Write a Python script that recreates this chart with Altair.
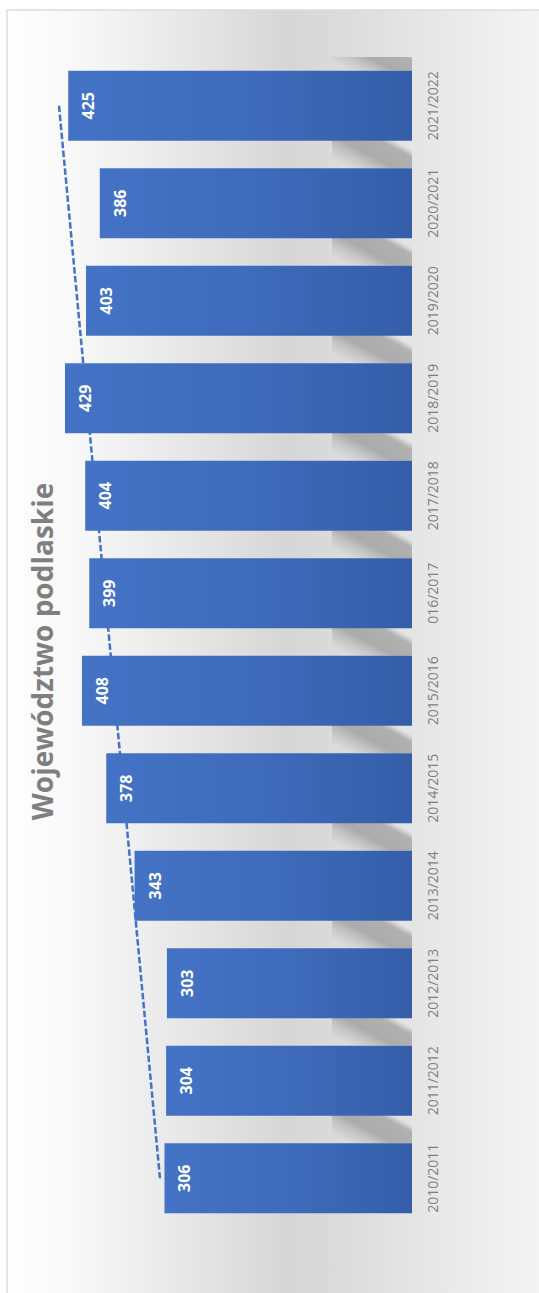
import altair as alt
import pandas as pd

# ---- data ----
categories = ["2010/2011", "2011/2012", "2012/2013", "2013/2014", "2014/2015",
              "2015/2016", "016/2017", "2017/2018", "2018/2019", "2019/2020",
              "2020/2021", "2021/2022"]
values = [306, 304, 303, 343, 378, 408, 399, 404, 429, 403, 386, 425]
title_text = "Województwo podlaskie"

df = pd.DataFrame({"cat": categories, "value": values})
one = pd.DataFrame({"k": [0]})

FONT = "Open Sans"
W, H = 364, 1170
top_order = categories[::-1]

xscale = alt.Scale(domain=[0, 450], reverse=True, nice=False, zero=True)
yband = alt.Scale(paddingInner=0.282, paddingOuter=0.141)

def ycat(axis=None):
    return alt.Y("cat:N", sort=top_order, scale=yband, axis=axis, title=None)

# background panel with gradient
bg = alt.Chart(one).mark_rect(
    color=alt.LinearGradient(
        gradient="linear", x1=0, x2=1, y1=0, y2=0,
        stops=[
            alt.GradientStop(color="#fefefe", offset=0),
            alt.GradientStop(color="#f8f8f8", offset=0.127),
            alt.GradientStop(color="#e9e9e9", offset=0.307),
            alt.GradientStop(color="#d6d6d6", offset=0.518),
            alt.GradientStop(color="#dcdcdc", offset=0.628),
            alt.GradientStop(color="#e5e5e5", offset=0.754),
            alt.GradientStop(color="#f5f5f5", offset=1),
        ]),
    stroke="#dcdcdc", strokeWidth=1.5
).encode(x=alt.value(-41), x2=alt.value(500), y=alt.value(-47), y2=alt.value(1240))

# soft diagonal shadow in the gap above each bar, near the base
shadow = alt.Chart(df).mark_bar(
    size=28, yOffset=-49, clip=True,
    color=alt.LinearGradient(
        gradient="linear", x1=0, y1=1, x2=1, y2=0.35,
        stops=[
            alt.GradientStop(color="rgba(160,160,160,0)", offset=0.15),
            alt.GradientStop(color="rgba(160,160,160,0.35)", offset=0.35),
            alt.GradientStop(color="rgba(158,158,158,0.8)", offset=0.55),
            alt.GradientStop(color="rgba(160,160,160,0.75)", offset=0.88),
            alt.GradientStop(color="rgba(170,170,170,0)", offset=1),
        ]),
).encode(y=ycat(), x=alt.value(284), x2=alt.value(364))

trend = alt.Chart(df).transform_window(
    idx="row_number()"
).transform_regression(
    "idx", "value", method="linear"
).mark_line(
    color="#4472c4", strokeWidth=2.5, strokeDash=[6.5, 2.5]
).encode(
    x=alt.X("value:Q", scale=xscale, axis=None),
    y=alt.Y("idx:Q", scale=alt.Scale(domain=[0.5, 12.5], nice=False, zero=False), axis=None),
)

bars = alt.Chart(df).mark_bar(
    color=alt.LinearGradient(
        gradient="linear", x1=0, x2=1, y1=0, y2=0,
        stops=[
            alt.GradientStop(color="#4473c5", offset=0),
            alt.GradientStop(color="#3e6bbb", offset=0.5),
            alt.GradientStop(color="#345ea8", offset=1),
        ]),
).encode(
    x=alt.X("value:Q", scale=xscale, axis=None),
    y=ycat(alt.Axis(orient="right", ticks=False, tickSize=0, domain=False, grid=False,
                    labelAngle=270, labelAlign="center", labelBaseline="top",
                    labelPadding=14, labelFont=FONT, labelFontSize=14,
                    labelColor="#7f7f7f", labelOverlap=False, zindex=2)),
)

labels = alt.Chart(df).mark_text(
    angle=270, align="center", baseline="middle", dy=21,
    color="white", font=FONT, fontWeight="bold", fontSize=16,
).encode(
    x=alt.X("value:Q", scale=xscale, axis=None),
    y=ycat(),
    text=alt.Text("value:Q"),
)

title = alt.Chart(one).mark_text(
    angle=270, align="center", baseline="alphabetic",
    font=FONT, fontWeight="bold", fontSize=28, color="#7f7f7f",
).encode(x=alt.value(5.3), y=alt.value(594.5), text=alt.value(title_text))

chart = alt.layer(bg, shadow, trend, bars, labels, title).resolve_scale(
    y="independent"
).properties(
    width=W, height=H,
    padding={"left": 48, "top": 57, "right": 127, "bottom": 66},
    autosize=alt.AutoSizeParams(type="none"),
    background="#ffffff",
).configure_view(stroke=None)

chart.save("out.html", embed_options={"renderer": "svg", "actions": False})
